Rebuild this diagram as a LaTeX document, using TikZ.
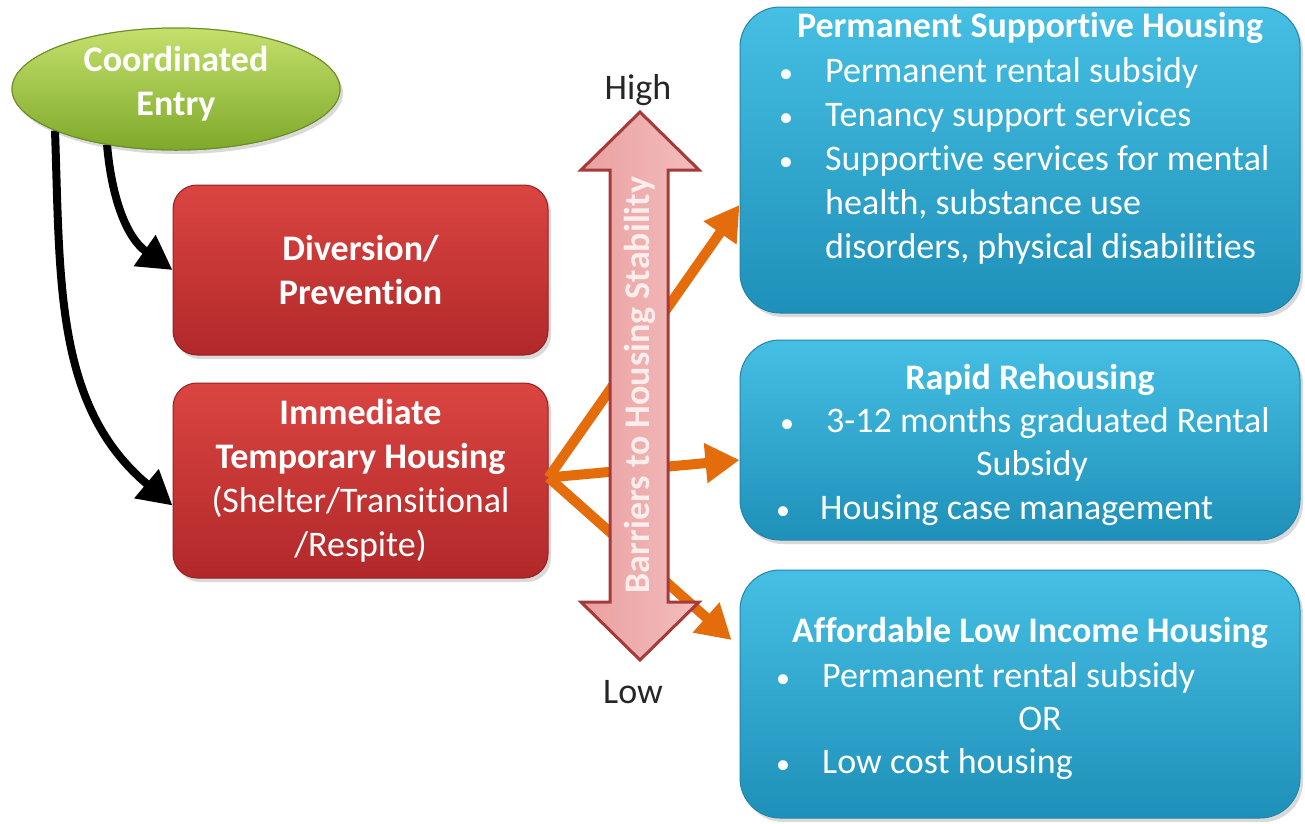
\documentclass[tikz,border=0pt]{standalone}
\usepackage{fontspec}
\setmainfont{Carlito}[Ligatures=NoCommon,RawFeature={-liga;-clig;-calt;-dlig}]
\usetikzlibrary{shapes.geometric,arrows.meta,shadows}
\definecolor{redtop}{HTML}{DA4541}
\definecolor{redbot}{HTML}{B2282A}
\definecolor{redborder}{HTML}{962022}
\definecolor{bluetop}{HTML}{46BFE4}
\definecolor{bluebot}{HTML}{1E90B9}
\definecolor{blueborder}{HTML}{2384A8}
\definecolor{greentop}{HTML}{C4E06C}
\definecolor{greenbot}{HTML}{7EA92A}
\definecolor{greenborder}{HTML}{6A8C26}
\definecolor{orangeA}{HTML}{E46C0A}
\definecolor{pinkL}{HTML}{EAA0A0}
\definecolor{pinkR}{HTML}{F3BDBD}
\definecolor{pinkborder}{HTML}{A53A3A}
\definecolor{pinktext}{HTML}{FDEDED}
\newcommand{\diagfont}{\fontsize{36}{44}\selectfont}
\newcommand{\bulfont}{\fontsize{28}{28}\selectfont}
\begin{document}
\begin{tikzpicture}[x=1pt,y=1pt,
  shad/.style={drop shadow={opacity=0.3,shadow xshift=3pt,shadow yshift=-4pt}},
  redbox/.style={rectangle,rounded corners=24pt,draw=redborder,line width=1pt,
    top color=redtop,bottom color=redbot,minimum width=375pt,inner sep=0pt,
    text=white,align=center,font=\diagfont,shad},
  bluebox/.style={rectangle,rounded corners=40pt,draw=blueborder,line width=1pt,
    top color=bluetop,bottom color=bluebot,minimum width=560pt,inner sep=0pt,shad},
  hd/.style={font=\diagfont\bfseries,text=white,inner sep=0pt,anchor=base},
  ln/.style={font=\diagfont,text=white,inner sep=0pt,anchor=base west},
  lnc/.style={font=\diagfont,text=white,inner sep=0pt,anchor=base},
  bul/.style={font=\bulfont,text=white,inner sep=0pt,anchor=base},
  blackarrow/.style={draw=black,line width=8pt,-{Triangle[length=34pt,width=36pt]}},
  oarrow/.style={draw=orangeA,line width=10pt,-{Triangle[length=34pt,width=38pt]}},
  dblarrow/.style={draw=pinkborder,line width=3pt,line join=miter,left color=pinkL,right color=pinkR},
  greenell/.style={ellipse,draw=greenborder,line width=1pt,top color=greentop,bottom color=greenbot,
    minimum width=328pt,minimum height=122pt,inner sep=0pt},
  lbl/.style={font=\diagfont,text=black!85,inner sep=0pt}
]
\useasboundingbox (0,0) rectangle (1305,-823);

% boxes
\node[redbox,minimum height=170pt,font=\diagfont\bfseries] (div) at (360.5,-270) {Diversion/\\Prevention};
\node[redbox,minimum height=195pt] (ith) at (360.5,-480.5) {\textbf{Immediate}\\\textbf{Temporary Housing}\\(Shelter/Transitional\\/Respite)};

\node[bluebox,minimum height=306pt] (psh) at (1020,-160) {};
\node[bluebox,minimum height=200pt] (rr) at (1020,-440) {};
\node[bluebox,minimum height=248pt] (alih) at (1020,-694) {};

% coordinated entry
\node[greenell,shad] (ce) at (176,-89) {};
\draw[blackarrow] (ce.199) to[out=-88,in=140] ([yshift=-25pt]ith.west);
\draw[blackarrow] (ce.219) to[out=-85,in=145] (div.west);
\node[greenell] (ce2) at (176,-89) {};
\node[font=\diagfont\bfseries,text=white,align=center,inner sep=0pt] (cet) at (176,-84) {Coordinated\\Entry};

% orange arrows
\draw[oarrow] ([yshift=3pt]ith.east) -- ([yshift=-45pt]psh.west);
\draw[oarrow] ([yshift=3pt]ith.east) -- ([yshift=-20pt]rr.west);
\draw[oarrow] ([yshift=3pt]ith.east) -- ([xshift=-8pt,yshift=54pt]alih.west);

% double arrow
\draw[dblarrow] (640,-112) -- (699,-170) -- (668,-170) -- (668,-602) -- (699,-602)
  -- (640,-660) -- (581,-602) -- (610,-602) -- (610,-170) -- (581,-170) -- cycle;
\node[font=\diagfont\bfseries,text=pinktext,rotate=90,inner sep=0pt] (bar) at (640,-385) {Barriers to Housing Stability};
\node[lbl] (high) at (638,-90) {High};
\node[lbl] (low) at (633,-692) {Low};

% PSH text
\node[hd] (psht) at (1030,-37) {Permanent Supportive Housing};
\node[bul] (pshb1) at (786,-82) {\textbullet};
\node[ln] (pshl1) at (825,-82) {Permanent rental subsidy};
\node[bul] (pshb2) at (786,-126) {\textbullet};
\node[ln] (pshl2) at (825,-126) {Tenancy support services};
\node[bul] (pshb3) at (786,-170) {\textbullet};
\node[ln] (pshl3) at (825,-170) {Supportive services for mental};
\node[ln] (pshl4) at (825,-214) {health, substance use};
\node[ln] (pshl5) at (825,-258) {disorders, physical disabilities};

% RR text
\node[hd] (rrt) at (1030,-389) {Rapid Rehousing};
\node[bul] (rrb1) at (787,-432) {\textbullet};
\node[ln] (rrl1) at (826,-432) {3-12 months graduated Rental};
\node[lnc] (rrl2) at (1032,-475) {Subsidy};
\node[bul] (rrb2) at (783,-519) {\textbullet};
\node[ln] (rrl3) at (820,-519) {Housing case management};

% ALIH text
\node[hd] (alt) at (1030,-642) {Affordable Low Income Housing};
\node[bul] (alb1) at (783,-687) {\textbullet};
\node[ln] (all1) at (822,-687) {Permanent rental subsidy};
\node[lnc] (all2) at (1040,-730) {OR};
\node[bul] (alb2) at (783,-773) {\textbullet};
\node[ln] (all3) at (822,-773) {Low cost housing};
\end{tikzpicture}
\end{document}
